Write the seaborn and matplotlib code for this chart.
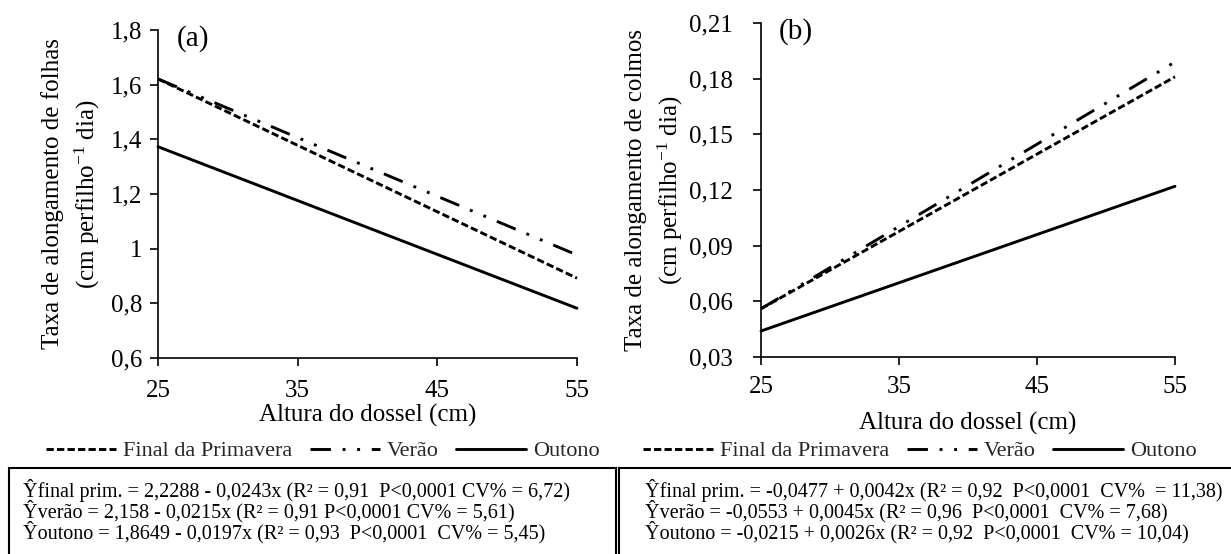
import matplotlib
matplotlib.use("Agg")
import matplotlib.pyplot as plt
import seaborn as sns
import pandas as pd
from matplotlib.patches import Rectangle

sns.set_theme(style="white")
plt.rcParams["font.family"] = ["Liberation Serif", "DejaVu Serif"]
plt.rcParams["mathtext.fontset"] = "custom"
plt.rcParams["mathtext.rm"] = "Liberation Serif"
plt.rcParams["mathtext.it"] = "Liberation Serif:italic"

# Canopy height at the two ends of each fitted line (cm)
heights = [25, 55]
seasons = ["Final da Primavera", "Verão", "Outono"]

# Leaf elongation rate (cm perfilho-1 dia)
leaf_primavera = [1.621, 0.892]
leaf_verao = [1.621, 0.977]
leaf_outono = [1.373, 0.782]

# Stem elongation rate (cm perfilho-1 dia)
stem_primavera = [0.056, 0.181]
stem_verao = [0.056, 0.189]
stem_outono = [0.044, 0.122]

leaf_yticks = [0.6, 0.8, 1.0, 1.2, 1.4, 1.6, 1.8]
leaf_yticklabels = ["0,6", "0,8", "1", "1,2", "1,4", "1,6", "1,8"]
stem_yticks = [0.03, 0.06, 0.09, 0.12, 0.15, 0.18, 0.21]
stem_yticklabels = ["0,03", "0,06", "0,09", "0,12", "0,15", "0,18", "0,21"]
xticks = [25, 35, 45, 55]

leaf_equations = [
    "Ŷfinal prim. = 2,2288 - 0,0243x (R² = 0,91  P<0,0001 CV% = 6,72)",
    "Ŷverão = 2,158 - 0,0215x (R² = 0,91 P<0,0001 CV% = 5,61)",
    "Ŷoutono = 1,8649 - 0,0197x (R² = 0,93  P<0,0001  CV% = 5,45)",
]
stem_equations = [
    "Ŷfinal prim. = -0,0477 + 0,0042x (R² = 0,92  P<0,0001  CV%  = 11,38)",
    "Ŷverão = -0,0553 + 0,0045x (R² = 0,96  P<0,0001  CV% = 7,68)",
    "Ŷoutono = -0,0215 + 0,0026x (R² = 0,92  P<0,0001  CV% = 10,04)",
]

dash_styles = {
    "Final da Primavera": (2.5, 1.1),
    "Verão": (7.0, 4.0, 1.0, 4.0, 1.0, 4.0),
    "Outono": "",
}
palette = {s: "black" for s in seasons}


def long_frame(series):
    rows = []
    for season, ys in zip(seasons, series):
        for h, y in zip(heights, ys):
            rows.append({"Altura": h, "Taxa": y, "Estação": season})
    return pd.DataFrame(rows)


W, H = 1231, 554
fig = plt.figure(figsize=(W / 100, H / 100), dpi=100)
fig.patch.set_facecolor("white")


def px_axes(left, right, top, bottom):
    return fig.add_axes([left / W, 1 - bottom / H, (right - left) / W, (bottom - top) / H])


ax_a = px_axes(158, 577, 30, 358)
ax_b = px_axes(761, 1175, 23, 357)

panels = [
    (ax_a, long_frame([leaf_primavera, leaf_verao, leaf_outono]), (0.6, 1.8),
     leaf_yticks, leaf_yticklabels,
     "Taxa de alongamento de folhas\n(cm perfilho$^{-1}$ dia)", "(a)", -0.206, 5, 10, 0.175),
    (ax_b, long_frame([stem_primavera, stem_verao, stem_outono]), (0.03, 0.21),
     stem_yticks, stem_yticklabels,
     "Taxa de alongamento de colmos\n(cm perfilho$^{-1}$ dia)", "(b)", -0.257, 14, 8, 0.198),
]

for ax, df, ylim, yt, ytl, ylabel, letter, ylab_x, ypad, xpad, xlab_y in panels:
    sns.lineplot(data=df, x="Altura", y="Taxa", hue="Estação", style="Estação",
                 hue_order=seasons, style_order=seasons, palette=palette,
                 dashes=dash_styles, linewidth=2.1, legend=False, ax=ax)
    for ln in ax.lines:
        ln.set_clip_on(False)
    ax.set_xlim(25, 55)
    ax.set_ylim(*ylim)
    ax.set_xticks(xticks)
    ax.set_xticklabels([str(t) for t in xticks])
    ax.set_yticks(yt)
    ax.set_yticklabels(ytl)
    sns.despine(ax=ax)
    for side in ("left", "bottom"):
        ax.spines[side].set_color("black")
        ax.spines[side].set_linewidth(1.2)
    ax.tick_params(axis="both", which="major", direction="out", length=6, width=1.2,
                   color="black", labelsize=18, labelcolor="black",
                   bottom=True, left=True)
    ax.tick_params(axis="y", pad=ypad)
    ax.tick_params(axis="x", pad=xpad)
    ax.set_xlabel("Altura do dossel (cm)", fontsize=18, color="black")
    ax.xaxis.label.set_va("center")
    ax.xaxis.set_label_coords(0.5, -xlab_y)
    ax.set_ylabel(ylabel, fontsize=18, color="black", linespacing=1.4)
    ax.yaxis.label.set_va("center")
    ax.yaxis.set_label_coords(ylab_x, 0.5)
    ax.text(0.083, 0.975, letter, transform=ax.transAxes, fontsize=21,
            ha="center", va="center", color="black")
    ax.set_facecolor("white")

# Legends under each panel
for ax, cx in ((ax_a, 323), (ax_b, 920)):
    handles = list(ax.lines[:3])
    fig.legend(handles, seasons, loc="center", bbox_to_anchor=(cx / W, 1 - 451 / H),
               bbox_transform=fig.transFigure, ncol=3, frameon=False, fontsize=16,
               handlelength=3.15, handletextpad=0.3, columnspacing=0.8,
               borderpad=0, borderaxespad=0)

# Boxes holding the regression equations
for x0, x1 in ((9, 616), (619, 1240)):
    fig.add_artist(Rectangle((x0 / W, -0.1), (x1 - x0) / W, 0.1 + 1 - 468 / H,
                             transform=fig.transFigure, fill=False,
                             edgecolor="black", linewidth=1.5, clip_on=False))

for x0, eqs in ((23, leaf_equations), (645, stem_equations)):
    for i, line in enumerate(eqs):
        fig.text(x0 / W, 1 - (490 + 21 * i) / H, line, fontsize=14.5,
                 ha="left", va="center", color="black")

fig.savefig("out.png", dpi=100, facecolor="white")
